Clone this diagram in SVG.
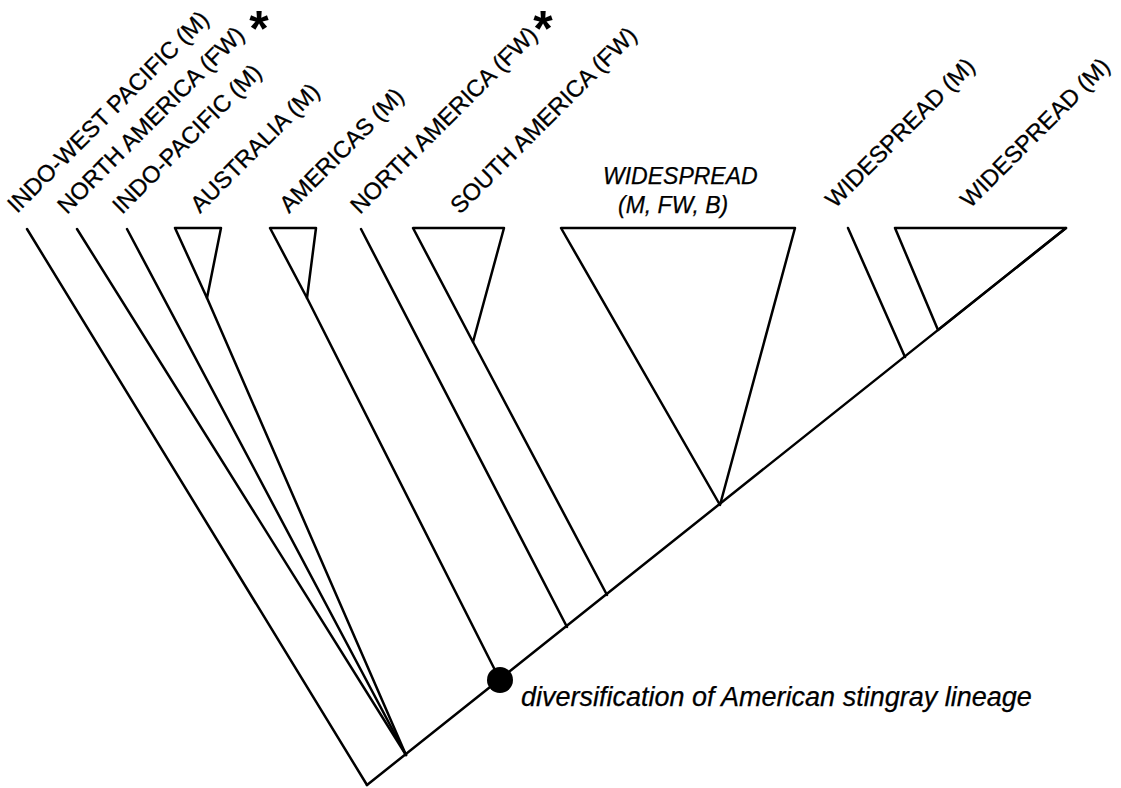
<svg xmlns="http://www.w3.org/2000/svg" width="1121" height="788" viewBox="0 0 1121 788">
<style>
.br{stroke:#000;stroke-width:2.5;fill:none;stroke-linecap:round;stroke-linejoin:round}
.lbl{font-family:"Liberation Sans",Arial,sans-serif;font-size:23.5px;fill:#000;stroke:#000;stroke-width:0.3}
.it{font-family:"Liberation Sans",Arial,sans-serif;font-style:italic;fill:#000;stroke:#000;stroke-width:0.25}
.ast{font-family:"Liberation Sans",Arial,sans-serif;font-size:50px;font-weight:bold;fill:#000}
</style>
<rect width="1121" height="788" fill="#fff"/>
<g id="connectors">
<line class="br" x1="367" y1="785" x2="1066" y2="228"/>
<line class="br" x1="367" y1="785" x2="27" y2="229"/>
<line class="br" x1="406" y1="755" x2="77" y2="229"/>
<line class="br" x1="406" y1="755" x2="127" y2="229"/>
<line class="br" x1="406" y1="755" x2="207" y2="298"/>
<line class="br" x1="307" y1="298" x2="500" y2="680"/>
<line class="br" x1="361" y1="229" x2="567" y2="627"/>
<line class="br" x1="473" y1="342" x2="607" y2="595"/>
<line class="br" x1="848" y1="228" x2="905" y2="357"/>
</g>
<g id="n-indowest"><text class="lbl" transform="translate(17,214) rotate(-45)">INDO-WEST PACIFIC (M)</text></g>
<g id="n-northamerica1"><text class="lbl" transform="translate(67,215) rotate(-45)">NORTH AMERICA (FW)</text><text class="ast" x="259" y="46" text-anchor="middle">*</text></g>
<g id="n-indopacific"><text class="lbl" transform="translate(122,215) rotate(-45)">INDO-PACIFIC (M)</text></g>
<g id="n-australia"><polygon class="br" points="175,228 221,228 207,298"/><text class="lbl" transform="translate(200,214) rotate(-45)">AUSTRALIA (M)</text></g>
<g id="n-americas"><polygon class="br" points="270,228 316,228 307,298"/><text class="lbl" transform="translate(289,214) rotate(-45)">AMERICAS (M)</text></g>
<g id="n-northamerica2"><text class="lbl" transform="translate(360,215) rotate(-45)">NORTH AMERICA (FW)</text><text class="ast" x="543" y="46" text-anchor="middle">*</text></g>
<g id="n-southamerica"><polygon class="br" points="413,228 504,228 473,342"/><text class="lbl" transform="translate(460,215) rotate(-45)">SOUTH AMERICA (FW)</text></g>
<g id="n-widespread-mfwb"><polygon class="br" points="561,228 795,228 720,505"/><text class="it" font-size="23" x="603" y="184">WIDESPREAD</text><text class="it" font-size="23" x="618" y="213">(M, FW, B)</text></g>
<g id="n-widespread1"><text class="lbl" transform="translate(835,209) rotate(-45)">WIDESPREAD (M)</text></g>
<g id="n-widespread2"><polygon class="br" points="895,228 1066,228 938,330"/><text class="lbl" transform="translate(970,209) rotate(-45)">WIDESPREAD (M)</text></g>
<g id="n-diversification"><circle cx="500" cy="680" r="13" fill="#000"/><text class="it" font-size="27" x="521" y="706">diversification of American stingray lineage</text></g>
</svg>
